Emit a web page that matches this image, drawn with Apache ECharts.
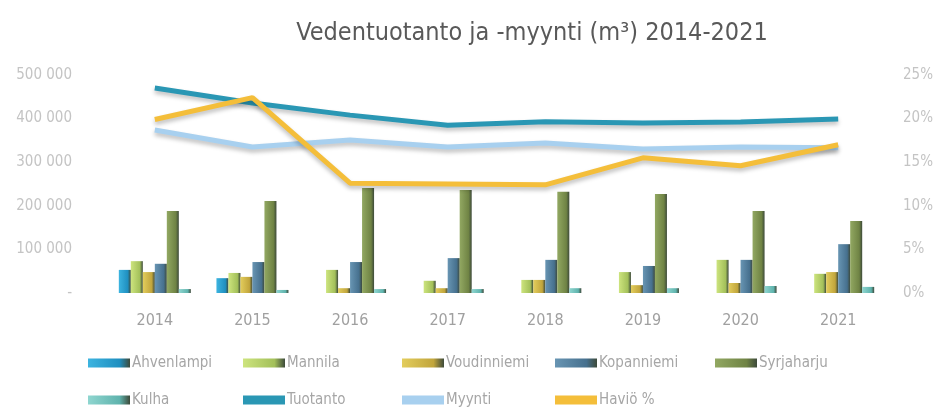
<!DOCTYPE html>
<html>
<head>
<meta charset="utf-8">
<script src="https://cdn.jsdelivr.net/npm/echarts@6/dist/echarts.min.js"></script>
<style>
  html, body { margin: 0; padding: 0; background: #fff; }
  #chart { width: 939px; height: 408px; }
</style>
</head>
<body>
<div id="chart"></div>
<script>
// vuodet
var years = ['2014', '2015', '2016', '2017', '2018', '2019', '2020', '2021'];

// vedenottamot (m3)
var ahvenlampi  = [53000, 34000, 0, 0, 0, 0, 0, 0];
var mannila     = [73000, 46000, 53000, 28000, 30000, 48000, 76000, 44000];
var voudinniemi = [48000, 37000, 11000, 11000, 30000, 18000, 23000, 48000];
var kopanniemi  = [67000, 71000, 71000, 80000, 76000, 62000, 76000, 112000];
var syrjaharju  = [188000, 211000, 241000, 236000, 232000, 227000, 188000, 165000];
var kulha       = [9000, 7000, 9000, 9000, 11000, 11000, 16000, 14000];

// tuotanto ja myynti (m3), havio %
var tuotanto = [470000, 436000, 408000, 385000, 393000, 390000, 392000, 399000];
var myynti   = [374000, 335000, 351000, 335000, 344000, 330000, 335000, 333000];
var havio    = [19.9, 22.4, 12.6, 12.5, 12.4, 15.5, 14.6, 17.0];

var leftTicks  = [0, 100000, 200000, 300000, 400000, 500000];
var rightTicks = [0, 5, 10, 15, 20, 25];

var FONT = '"Liberation Sans Narrow", "DejaVu Sans Condensed", "Open Sans", sans-serif';

function barColor(c1, c2) {
  return new echarts.graphic.LinearGradient(0, 0, 1, 0, [
    { offset: 0, color: c1 },
    { offset: 0.75, color: c2 },
    { offset: 1, color: '#3d4a3a' }
  ]);
}

function bar(name, data, c1, c2) {
  return {
    name: name, type: 'bar', data: data,
    barWidth: 12, barGap: '0%',
    itemStyle: { color: barColor(c1, c2) }
  };
}

function line(name, data, color, axis) {
  return {
    name: name, type: 'line', data: data, yAxisIndex: axis,
    symbol: 'none', z: 5,
    itemStyle: { color: color },
    lineStyle: {
      width: 5, color: color,
      shadowColor: 'rgba(0,0,0,0.25)', shadowBlur: 4, shadowOffsetY: 3
    }
  };
}

// yksi legenda per nimi, jotta sarakkeet asettuvat kuten mallissa
function legendItem(left, top, name) {
  return {
    left: left, top: top, padding: 0,
    icon: 'rect', itemWidth: 42, itemHeight: 9,
    data: [name],
    textStyle: { color: '#a6a6a6', fontSize: 15, fontFamily: FONT, lineHeight: 18, padding: [0, 0, 0, -3] }
  };
}

var chart = echarts.init(document.getElementById('chart'));

var option = {
  backgroundColor: '#fff',
  animation: false,
  title: {
    text: 'Vedentuotanto ja -myynti (m³) 2014-2021',
    left: 527, top: 16, textAlign: 'center',
    textStyle: { color: '#595959', fontSize: 25, fontWeight: 'normal', fontFamily: FONT }
  },
  grid: { left: 106, right: 52, top: 75, bottom: 115 },
  legend: [
    legendItem(88, 354, 'Ahvenlampi'),
    legendItem(243, 354, 'Mannila'),
    legendItem(402, 354, 'Voudinniemi'),
    legendItem(555, 354, 'Kopanniemi'),
    legendItem(715, 354, 'Syrjaharju'),
    legendItem(88, 391, 'Kulha'),
    legendItem(243, 391, 'Tuotanto'),
    legendItem(402, 391, 'Myynti'),
    legendItem(555, 391, 'Haviö %')
  ],
  xAxis: {
    type: 'category', data: years,
    axisLine: { show: false }, axisTick: { show: false },
    axisLabel: { color: '#a0a0a0', fontSize: 16, margin: 20, fontFamily: FONT }
  },
  yAxis: [
    {
      type: 'value', min: 0, max: 500000, interval: 100000,
      splitLine: { show: false }, axisLine: { show: false }, axisTick: { show: false },
      axisLabel: {
        color: '#c4c4c4', fontSize: 15, margin: 34, fontFamily: FONT,
        formatter: function (v) {
          if (leftTicks.indexOf(v) < 0) return '';
          return v === 0 ? '-' : String(v).replace(/\B(?=(\d{3})+(?!\d))/g, ' ');
        }
      }
    },
    {
      type: 'value', min: 0, max: 25, interval: 5,
      splitLine: { show: false }, axisLine: { show: false }, axisTick: { show: false },
      axisLabel: {
        color: '#c4c4c4', fontSize: 15, margin: 16, fontFamily: FONT,
        formatter: function (v) { return rightTicks.indexOf(v) < 0 ? '' : v + '%'; }
      }
    }
  ],
  series: [
    bar('Ahvenlampi', ahvenlampi, '#3cb4e0', '#1f8fc0'),
    bar('Mannila', mannila, '#cde47e', '#a3c05a'),
    bar('Voudinniemi', voudinniemi, '#e3cd5c', '#c1a53c'),
    bar('Kopanniemi', kopanniemi, '#6895b3', '#46708e'),
    bar('Syrjaharju', syrjaharju, '#92a862', '#6f8344'),
    bar('Kulha', kulha, '#8fd6d0', '#5fb3ad'),
    line('Tuotanto', tuotanto, '#2a97b4', 0),
    line('Myynti', myynti, '#a8d0ef', 0),
    line('Haviö %', havio, '#f4be3a', 1)
  ]
};

chart.setOption(option);
</script>
</body>
</html>
